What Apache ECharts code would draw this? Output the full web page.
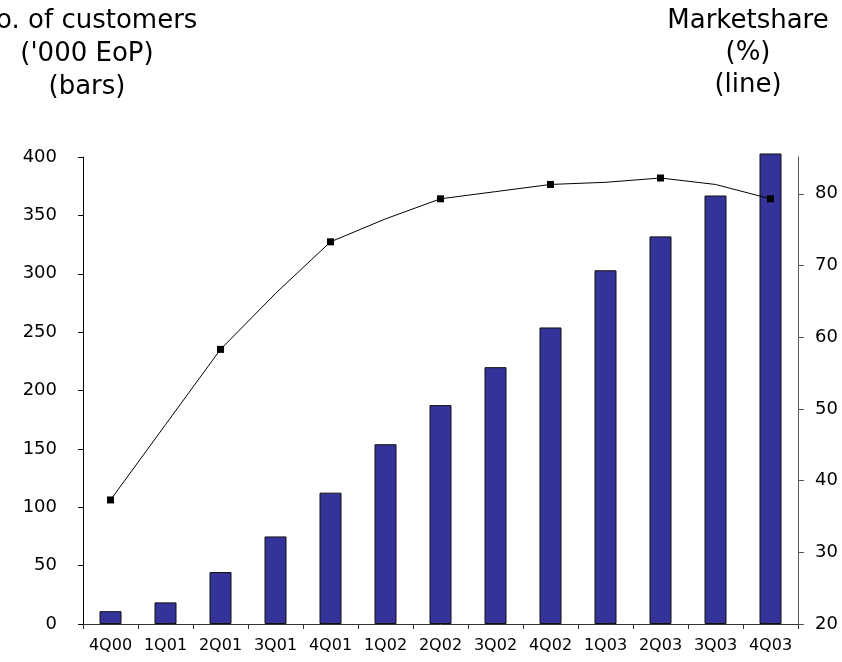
<!DOCTYPE html>
<html>
<head>
<meta charset="utf-8">
<script src="https://cdn.jsdelivr.net/npm/echarts@6/dist/echarts.min.js"></script>
<style>
  html, body { margin: 0; padding: 0; background: #ffffff; }
  #chart { width: 842px; height: 662px; }
</style>
</head>
<body>
<div id="chart"></div>
<script>
// Quarter-end figures
const quarters = ['4Q00', '1Q01', '2Q01', '3Q01', '4Q01', '1Q02', '2Q02', '3Q02', '4Q02', '1Q03', '2Q03', '3Q03', '4Q03'];
// Customers at end of period, thousands (bars)
const customers = [11, 18.5, 44.5, 75, 112.5, 154, 187.5, 220, 254, 303, 332, 367, 403];
// Market share, percent (line)
const marketShare = [37.3, 47.8, 58.3, 66.1, 73.3, 76.5, 79.3, 80.3, 81.3, 81.6, 82.2, 81.3, 79.3];
// Axis tick values
const customerTicks = [0, 50, 100, 150, 200, 250, 300, 350, 400];
const shareTicks = [20, 30, 40, 50, 60, 70, 80];

const FONT = "'DejaVu Sans', Verdana, sans-serif";

const chart = echarts.init(document.getElementById('chart'), null, { renderer: 'canvas' });

chart.setOption({
  animation: false,
  backgroundColor: '#ffffff',
  textStyle: { fontFamily: FONT },
  grid: { left: 83, right: 44, top: 157, bottom: 38, containLabel: false },
  graphic: [
    {
      type: 'text', x: 87, y: 5,
      style: {
        text: "No. of customers\n('000 EoP)\n(bars)",
        font: '26px ' + FONT, fill: '#000', align: 'center', verticalAlign: 'top', lineHeight: 33
      }
    },
    {
      type: 'text', x: 748, y: 5,
      style: {
        text: 'Marketshare\n(%)\n(line)',
        font: '26px ' + FONT, fill: '#000', align: 'center', verticalAlign: 'top', lineHeight: 32
      }
    }
  ],
  xAxis: {
    type: 'category',
    data: quarters,
    boundaryGap: true,
    axisLine: { lineStyle: { color: '#333', width: 1 } },
    axisTick: { show: true, alignWithLabel: false, inside: false, length: 5, lineStyle: { color: '#333' } },
    axisLabel: { color: '#000', fontSize: 16, fontFamily: FONT, margin: 14, interval: 0 },
    splitLine: { show: false }
  },
  yAxis: [
    {
      type: 'value',
      position: 'left',
      min: 0, max: 400, interval: 50,
      axisLine: { show: true, lineStyle: { color: '#000', width: 1 } },
      axisTick: { show: true, inside: false, length: 5, lineStyle: { color: '#000' }, customValues: customerTicks },
      axisLabel: { color: '#000', fontSize: 18, fontFamily: FONT, margin: 26, customValues: customerTicks },
      splitLine: { show: false }
    },
    {
      type: 'value',
      position: 'right',
      min: 20, max: 85.13, interval: 10,
      axisLine: { show: true, lineStyle: { color: '#555', width: 1 } },
      axisTick: { show: true, inside: false, length: 6, lineStyle: { color: '#555' }, customValues: shareTicks },
      axisLabel: { color: '#000', fontSize: 18, fontFamily: FONT, margin: 17, customValues: shareTicks },
      splitLine: { show: false }
    }
  ],
  series: [
    {
      name: 'Customers',
      type: 'bar',
      yAxisIndex: 0,
      data: customers,
      barWidth: 22,
      clip: false,
      itemStyle: { color: '#333399', borderColor: '#111', borderWidth: 1 }
    },
    {
      name: 'Marketshare',
      type: 'line',
      yAxisIndex: 1,
      data: marketShare,
      showAllSymbol: true,
      symbol: function (value, params) { return params.dataIndex % 2 === 0 ? 'rect' : 'none'; },
      symbolSize: 7,
      itemStyle: { color: '#000' },
      lineStyle: { color: '#000', width: 1 },
      z: 5
    }
  ]
});
</script>
</body>
</html>
